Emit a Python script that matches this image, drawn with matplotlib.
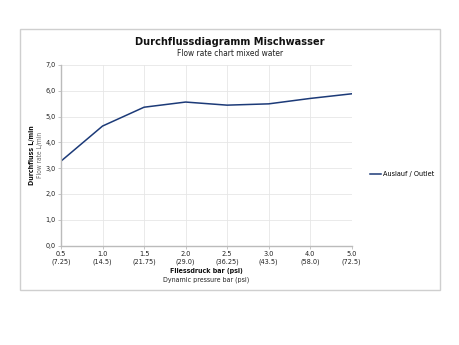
import matplotlib.pyplot as plt
from matplotlib.patches import Rectangle

# data
pressure_bar = ["0.5", "1.0", "1.5", "2.0", "2.5", "3.0", "4.0", "5.0"]
pressure_psi = ["7.25", "14.5", "21.75", "29.0", "36.25", "43.5", "58.0", "72.5"]
flow_outlet = [3.27, 4.63, 5.36, 5.56, 5.44, 5.49, 5.70, 5.88]
y_ticks = [0, 1, 2, 3, 4, 5, 6, 7]

line_color = "#1c3a78"
grid_color = "#e6e6e6"
text_color = "#222222"

plt.rcParams["font.family"] = ["DejaVu Sans"]
plt.rcParams["font.stretch"] = "condensed"

fig = plt.figure(figsize=(4.6, 3.45), dpi=100)

# outer chart frame
fig.patches.append(Rectangle((20 / 460, 1 - 290 / 345), 420.5 / 460, 261 / 345,
                             transform=fig.transFigure, fill=False,
                             edgecolor="#cfcfcf", linewidth=1.0))

ax = fig.add_axes([61 / 460, 1 - 245.5 / 345, 290.7 / 460, 180.6 / 345])

x = list(range(len(pressure_bar)))
ax.plot(x, flow_outlet, color=line_color, linewidth=1.1, label="Auslauf / Outlet")

ax.set_xlim(0, len(x) - 1)
ax.set_ylim(0, 7)
ax.set_xticks(x)
ax.set_xticklabels([f"{b}\n({p})" for b, p in zip(pressure_bar, pressure_psi)],
                   fontsize=5.2, color=text_color, linespacing=1.25)
ax.set_yticks(y_ticks)
ax.set_yticklabels([f"{v:.1f}".replace(".", ",") for v in y_ticks],
                   fontsize=5.2, color=text_color)
ax.tick_params(axis="both", length=2, width=0.6, color="#bbbbbb", pad=2)

ax.grid(True, color=grid_color, linewidth=0.6)
ax.set_axisbelow(True)
for s in ["top", "right"]:
    ax.spines[s].set_visible(False)
for s in ["left", "bottom"]:
    ax.spines[s].set_color("#bbbbbb")
    ax.spines[s].set_linewidth(1.0)

# titles
fig.text(230 / 460, 1 - 42 / 345, "Durchflussdiagramm Mischwasser", ha="center",
         va="center", fontsize=7.8, fontweight="bold", color="#111111")
fig.text(230 / 460, 1 - 53.5 / 345, "Flow rate chart mixed water", ha="center",
         va="center", fontsize=6, color=text_color)

# axis labels
fig.text(206 / 460, 1 - 270.5 / 345, "Fliessdruck bar (psi)", ha="center", va="center",
         fontsize=5, fontweight="bold", color="#111111")
fig.text(206 / 460, 1 - 280 / 345, "Dynamic pressure bar (psi)", ha="center",
         va="center", fontsize=5, color=text_color)
fig.text(32 / 460, 1 - 155 / 345, "Durchfluss L/min", ha="center", va="center",
         rotation=90, fontsize=5, fontweight="bold", color="#111111")
fig.text(40 / 460, 1 - 155 / 345, "Flow rate L/min", ha="center", va="center",
         rotation=90, fontsize=4.8, color="#666666")

# legend
fig.legend(loc="center left", bbox_to_anchor=(366 / 460, 1 - 174 / 345),
           frameon=False, fontsize=5.2, handlelength=1.6, handletextpad=0.3,
           borderpad=0)

fig.savefig("out.png", dpi=100)
